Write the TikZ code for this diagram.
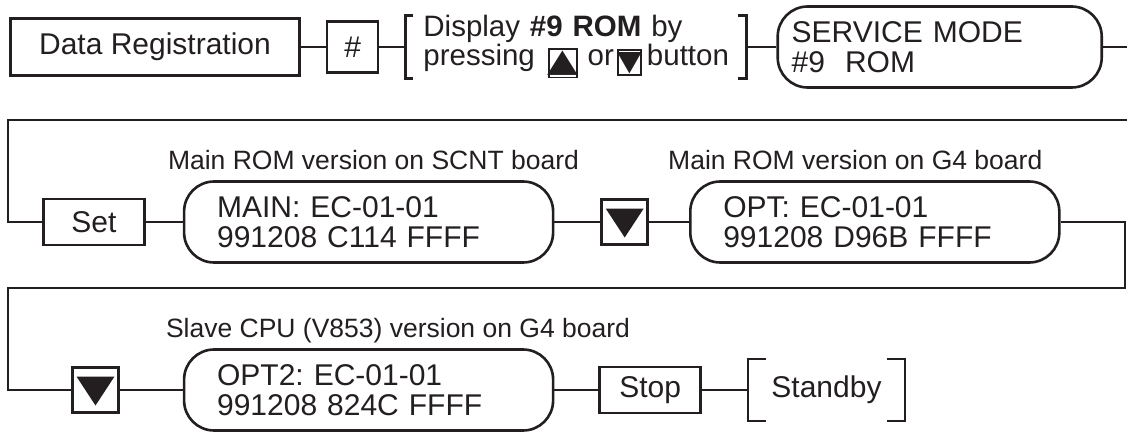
\documentclass[tikz,border=0pt]{standalone}
\usepackage{fontspec}
\setmainfont{Liberation Sans}
\newfontfamily\symfont{DejaVu Sans}
\usepackage{graphicx}
\usepackage{xcolor}
\usepackage{tikz}
\usetikzlibrary{positioning}

\definecolor{ink}{HTML}{231F20}
\frenchspacing
\hfuzz=20pt

% small keys set inside running text
\newcommand{\keyup}{{\setlength{\fboxsep}{0pt}\setlength{\fboxrule}{1.6pt}%
  \fbox{\rule[-11.4pt]{0pt}{26.8pt}\makebox[26.8pt]{\raisebox{-6pt}{\scalebox{1.25}[1]{\symfont\fontsize{32}{32}\selectfont ▲}}}}}}
\newcommand{\keydown}{{\setlength{\fboxsep}{0pt}\setlength{\fboxrule}{1.6pt}%
  \fbox{\rule[-8.4pt]{0pt}{22.8pt}\makebox[21.8pt]{\raisebox{-5.2pt}{\scalebox{1.15}[1]{\symfont\fontsize{28}{28}\selectfont ▼}}}}}}
% square brackets round a node
\newcommand{\brackets}[2]{%
  \draw[wire] ([xshift=#2]#1.north west) -- (#1.north west) -- (#1.south west) -- ([xshift=#2]#1.south west);
  \draw[wire] ([xshift=-#2]#1.north east) -- (#1.north east) -- (#1.south east) -- ([xshift=-#2]#1.south east);}

\begin{document}
\begin{tikzpicture}[x=1pt, y=-1pt,
  font=\fontsize{30}{30}\selectfont,
  every node/.style={text=ink},
  keybox/.style={draw=ink, line width=2.6pt, inner sep=0pt},
  panel/.style={draw=ink, line width=2.6pt, rounded corners=30pt, minimum width=369pt,
    minimum height=81pt, text width=303pt, inner xsep=33pt, inner ysep=0pt, align=left},
  dnkey/.style={keybox, minimum width=46pt, minimum height=45pt,
    path picture={\fill[ink] ([xshift=4pt,yshift=-9pt]path picture bounding box.north west)
      -- ([xshift=-4pt,yshift=-9pt]path picture bounding box.north east)
      -- ([yshift=7pt]path picture bounding box.south) -- cycle;}},
  brk/.style={inner ysep=0pt, outer sep=0pt},
  lbl/.style={font=\fontsize{26.5}{27}\selectfont, inner sep=0pt},
  wire/.style={draw=ink, line width=2.6pt},
]
  \useasboundingbox (0,0) rectangle (1127,433);

  % first row
  \node[keybox, minimum width=289pt, minimum height=57pt] (data) at (155,47) {Data Registration};
  \node[keybox, minimum width=51pt, minimum height=51pt, right=25pt of data] (hash) {\#};
  \node[brk, right=26pt of hash, minimum height=54pt, text width=305pt, inner xsep=18pt, align=left,
    font=\fontsize{29.5}{23.5}\selectfont] (disp)
    {Display \textbf{\#9 ROM} by\\\mbox{pressing\hspace{13pt}\keyup\ or\hspace{3pt}\keydown\hspace{5pt}button}};
  \node[panel, right=30pt of disp, minimum width=324pt, text width=296pt, inner xsep=14pt] (svc)
    {SERVICE MODE\\\#9\ \ ROM};

  % second row
  \node[keybox, minimum width=101pt, minimum height=46pt] (set) at (94,222) {Set};
  \node[panel, right=37pt of set] (main) {MAIN: EC-01-01\\991208 C114 FFFF};
  \node[dnkey, right=46pt of main] (dn1) {};
  \node[panel, right=40pt of dn1] (opt) {OPT: EC-01-01\\991208 D96B FFFF};

  % third row
  \node[dnkey] (dn2) at (95.5,390) {};
  \node[panel, right=63pt of dn2] (opt2) {OPT2: EC-01-01\\991208 824C FFFF};
  \node[keybox, minimum width=101pt, minimum height=46pt, right=44pt of opt2] (stop) {Stop};
  \node[brk, right=46pt of stop, minimum width=157pt, minimum height=62pt] (stby) {Standby};

  % captions
  \node[lbl, anchor=base west] (mainlbl) at ([xshift=-15pt,yshift=11pt]main.north west) {Main ROM version on SCNT board};
  \node[lbl, anchor=base west] (optlbl) at ([xshift=-21pt,yshift=11pt]opt.north west) {Main ROM version on G4 board};
  \node[lbl, anchor=base west] (opt2lbl) at ([xshift=-17pt,yshift=11pt]opt2.north west) {Slave CPU (V853) version on G4 board};

  \brackets{disp}{8pt}
  \brackets{stby}{18pt}

  % links
  \coordinate (r1) at (1140,120);
  \coordinate (l1) at (8,120);
  \coordinate (r2) at (1125,288);
  \coordinate (l2) at (8,288);
  \draw[wire] (data) -- (hash);
  \draw[wire] (hash) -- (disp);
  \draw[wire] (disp) -- (svc);
  \draw[wire] (svc.east) -| (r1) -- (l1) |- (set.west);
  \draw[wire] (set) -- (main);
  \draw[wire] (main) -- (dn1);
  \draw[wire] (dn1) -- (opt);
  \draw[wire] (opt.east) -| (r2) -- (l2) |- (dn2.west);
  \draw[wire] (dn2) -- (opt2);
  \draw[wire] (opt2) -- (stop);
  \draw[wire] (stop) -- (stby);
\end{tikzpicture}
\end{document}
